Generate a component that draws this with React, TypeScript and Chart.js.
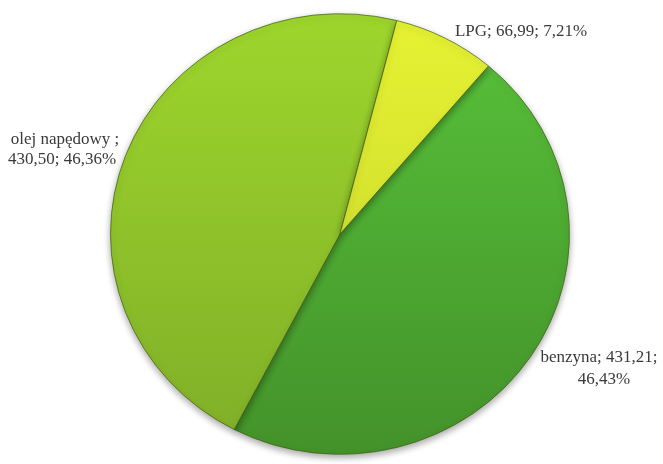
import React, { useEffect, useRef } from "react";
import { Chart, registerables } from "chart.js";

Chart.register(...registerables);

const categories = ["benzyna", "olej napędowy", "LPG"];
const values = [431.21, 430.5, 66.99];
const percents = ["46,43%", "46,36%", "7,21%"];
const valueLabels = ["431,21", "430,50", "66,99"];
const topColors = ["#58c23a", "#9ed62c", "#e6f232"];
const bottomColors = ["#43922a", "#7fae28", "#c2d22c"];

const FONT = '17px "Liberation Serif", "DejaVu Serif", serif';
const Y_SCALE = 0.96;

const labelPlugin = {
  id: "pieLabels",
  afterDraw(chart: any) {
    const ctx = chart.ctx;
    ctx.save();
    ctx.font = FONT;
    ctx.fillStyle = "#3a3a3a";
    ctx.textBaseline = "middle";
    const lines: [string, number, number, CanvasTextAlign][] = [
      [`${categories[1]} ;`, 65, 140, "center"],
      [`${valueLabels[1]}; ${percents[1]}`, 62, 160, "center"],
      [`${categories[2]}; ${valueLabels[2]}; ${percents[2]}`, 521, 32, "center"],
      [`${categories[0]}; ${valueLabels[0]};`, 599, 358, "center"],
      [percents[0], 604, 380, "center"],
    ];
    for (const [t, x, y, a] of lines) {
      ctx.textAlign = a;
      ctx.fillText(t, x, y);
    }
    ctx.restore();
  },
};

const shadowPlugin = {
  id: "pieShadow",
  beforeDatasetsDraw(chart: any) {
    const ctx = chart.ctx;
    const area = chart.chartArea;
    const cy = (area.top + area.bottom) / 2;
    ctx.save();
    ctx.translate(0, cy);
    ctx.scale(1, Y_SCALE);
    ctx.translate(0, -cy);
    ctx.shadowColor = "rgba(0,0,0,0.35)";
    ctx.shadowBlur = 7;
    ctx.shadowOffsetX = 0;
    ctx.shadowOffsetY = 3;
  },
  afterDatasetsDraw(chart: any) {
    chart.ctx.restore();
  },
};

export default function App() {
  const ref = useRef<HTMLCanvasElement>(null);
  useEffect(() => {
    const canvas = ref.current!;
    const chart = new Chart(canvas, {
      type: "pie",
      data: {
        labels: categories,
        datasets: [
          {
            data: values,
            backgroundColor: (c: any) => {
              const ch = c.chart;
              const area = ch.chartArea;
              if (!area) return topColors[c.dataIndex];
              const g = ch.ctx.createLinearGradient(0, area.top, 0, area.bottom);
              g.addColorStop(0, topColors[c.dataIndex]);
              g.addColorStop(1, bottomColors[c.dataIndex]);
              return g;
            },
            borderColor: "rgba(70,95,25,0.75)",
            borderWidth: 1,
          },
        ],
      },
      options: {
        animation: false,
        responsive: false,
        rotation: 40.3,
        layout: { padding: { left: 110, right: 93, top: 4, bottom: 0 } },
        plugins: {
          legend: { display: false },
          tooltip: { enabled: false },
        },
      },
      plugins: [shadowPlugin, labelPlugin],
    });
    return () => chart.destroy();
  }, []);
  return (
    <div style={{ position: "absolute", left: 0, top: 0, width: 663, height: 464, background: "#ffffff" }}>
      <canvas ref={ref} width={663} height={464} style={{ width: 663, height: 464 }} />
    </div>
  );
}
